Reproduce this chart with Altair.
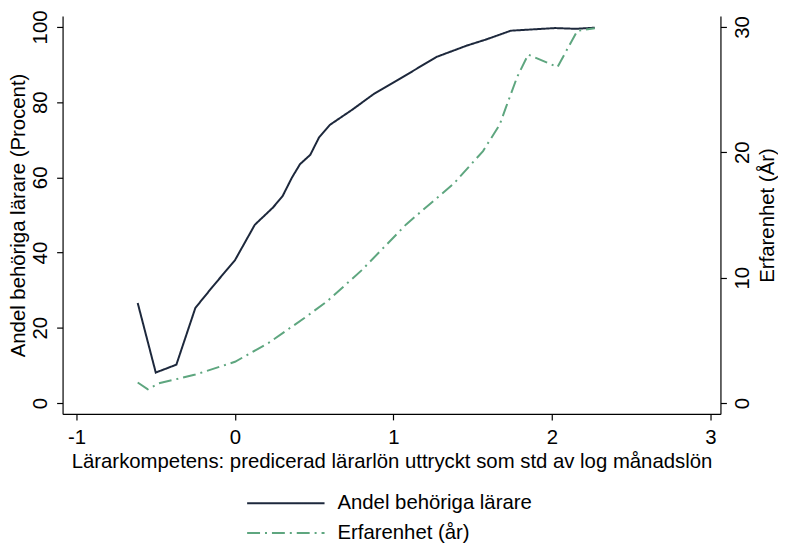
import altair as alt
import pandas as pd

# Andel behöriga lärare (left axis, percent)
x_andel = [-0.614, -0.50, -0.37, -0.25, -0.14, 0.0, 0.125, 0.24, 0.30, 0.36, 0.41, 0.475,
           0.53, 0.60, 0.74, 0.88, 1.02, 1.27, 1.46, 1.58, 1.74, 2.02, 2.15, 2.27]
y_andel = [26.6, 8.1, 10.2, 25.3, 31.0, 38.0, 47.4, 52.0, 55.0, 60.0, 63.5, 66.0,
           70.6, 74.0, 78.0, 82.3, 85.7, 92.0, 95.0, 96.6, 99.0, 99.7, 99.5, 99.8]

# Erfarenhet (right axis, years)
x_erf = [-0.614, -0.55, -0.48, -0.25, 0.0, 0.21, 0.44, 0.58, 0.80, 1.08, 1.38, 1.565,
         1.67, 1.71, 1.78, 1.85, 2.035, 2.16, 2.27]
y_erf = [1.64, 1.1, 1.57, 2.27, 3.29, 4.78, 6.8, 8.1, 10.6, 14.25, 17.5, 20.1,
         22.2, 23.6, 26.0, 27.8, 26.8, 29.7, 29.9]

series = ["Andel behöriga lärare", "Erfarenhet (år)"]
colors = ["#1d283c", "#5ea67f"]
dashes = [[1, 0], [13, 5, 2, 5]]

df1 = pd.DataFrame({"x": x_andel, "y": y_andel, "serie": series[0]})
df2 = pd.DataFrame({"x": x_erf, "y": y_erf, "serie": series[1]})

FONT = "Liberation Sans"
FS = 20.5

xscale = alt.Scale(domain=[-1.088, 3.063], nice=False, zero=False)
xaxis = alt.Axis(values=[-1, 0, 1, 2, 3], labelExpr="'' + datum.value",
                 title="Lärarkompetens: predicerad lärarlön uttryckt som std av log månadslön",
                 grid=False, tickSize=6, labelPadding=8, titlePadding=3, domainColor="#000", tickColor="#000")

color = alt.Color("serie:N", scale=alt.Scale(domain=series, range=colors),
                  legend=alt.Legend(title=None, orient="none", legendX=185, legendY=480,
                                    symbolType="M-1,0H6.8", symbolSize=400, symbolStrokeWidth=2,
                                    symbolFillColor="transparent",
                                    labelFontSize=FS, labelFont=FONT, rowPadding=8, padding=0,
                                    labelOffset=70, labelColor="#000", labelLimit=0))
dash = alt.StrokeDash("serie:N", scale=alt.Scale(domain=series, range=dashes), legend=None)

left = alt.Chart(df1).mark_line(strokeWidth=2).encode(
    x=alt.X("x:Q", scale=xscale, axis=xaxis),
    y=alt.Y("y:Q", scale=alt.Scale(domain=[-2.9, 102.9], nice=False, zero=False),
            axis=alt.Axis(values=[0, 20, 40, 60, 80, 100], title="Andel behöriga lärare (Procent)",
                          orient="left", grid=False, tickSize=6, labelAngle=-90, labelAlign="center",
                          labelBaseline="bottom", labelPadding=6, titlePadding=2,
                          domainColor="#000", tickColor="#000")),
    color=color,
    strokeDash=dash,
)

right = alt.Chart(df2).mark_line(strokeWidth=2).encode(
    x=alt.X("x:Q", scale=xscale),
    y=alt.Y("y:Q", scale=alt.Scale(domain=[-0.87, 30.87], nice=False, zero=False),
            axis=alt.Axis(values=[0, 10, 20, 30], title="Erfarenhet (År)", titleAngle=-90,
                          orient="right", grid=False, tickSize=6, labelAngle=-90, labelAlign="center",
                          labelBaseline="top", labelPadding=6, titlePadding=5, titleBaseline="top",
                          domainColor="#000", tickColor="#000")),
    color=color,
    strokeDash=dash,
)

chart = alt.layer(left, right).resolve_scale(y="independent").properties(
    width=663, height=401,
    autosize=alt.AutoSizeParams(type="none"),
    padding={"left": 55, "top": 6, "right": 58, "bottom": 130},
).configure_view(stroke=None).configure_axis(
    labelFont=FONT, titleFont=FONT, labelFontSize=FS, titleFontSize=FS,
    titleFontWeight="normal", labelColor="#000", titleColor="#000", domainWidth=1.2, tickWidth=1.2,
)

chart.save("out.html", embed_options={"renderer": "svg", "actions": False})
